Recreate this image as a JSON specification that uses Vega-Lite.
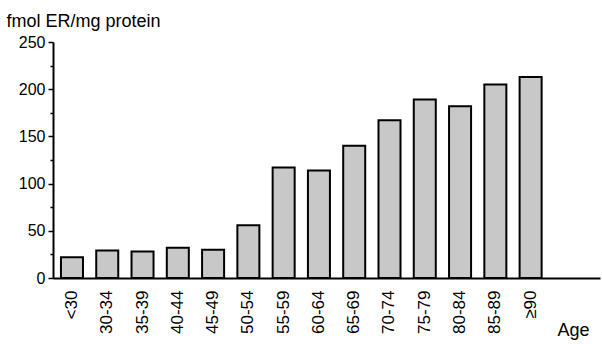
{
  "$schema": "https://vega.github.io/schema/vega-lite/v6.json",
  "width": 547,
  "height": 236,
  "autosize": {"type": "none"},
  "padding": {"left": 53, "top": 42, "right": 2, "bottom": 66},
  "background": "white",
  "config": {
    "view": {"stroke": null},
    "font": "Liberation Sans",
    "axis": {"grid": false, "labelFont": "Liberation Sans", "titleFont": "Liberation Sans", "labelColor": "black", "titleColor": "black", "titleFontWeight": "normal"}
  },
  "data": {
    "values": [
      {"age": "<30", "er": 22},
      {"age": "30-34", "er": 29},
      {"age": "35-39", "er": 28},
      {"age": "40-44", "er": 32},
      {"age": "45-49", "er": 30},
      {"age": "50-54", "er": 56},
      {"age": "55-59", "er": 117},
      {"age": "60-64", "er": 114},
      {"age": "65-69", "er": 140},
      {"age": "70-74", "er": 167},
      {"age": "75-79", "er": 189},
      {"age": "80-84", "er": 182},
      {"age": "85-89", "er": 205},
      {"age": "≥90", "er": 213}
    ]
  },
  "mark": {"type": "bar", "fill": "#c8c8c8", "stroke": "black", "strokeWidth": 2},
  "encoding": {
    "x": {
      "field": "age",
      "type": "nominal",
      "sort": null,
      "scale": {"paddingInner": 0.376, "paddingOuter": 0.94, "align": 0.12},
      "axis": {
        "title": "Age",
        "titleFontSize": 18,
        "titleAngle": 0,
        "titleX": 504,
        "titleY": 57,
        "titleAlign": "left",
        "titleBaseline": "alphabetic",
        "labelAngle": -90,
        "labelAlign": "right",
        "labelBaseline": "middle",
        "labelFontSize": 17,
        "labelPadding": 12,
        "ticks": false,
        "domainColor": "black",
        "domainWidth": 2
      }
    },
    "y": {
      "field": "er",
      "type": "quantitative",
      "scale": {"domain": [0, 250], "nice": false},
      "axis": {
        "title": "fmol ER/mg protein",
        "titleFontSize": 18,
        "titleAngle": 0,
        "titleX": -47,
        "titleY": -16,
        "titleAlign": "left",
        "titleBaseline": "alphabetic",
        "values": [0, 25, 50, 75, 100, 125, 150, 175, 200, 225, 250],
        "labelExpr": "datum.value % 50 === 0 ? datum.label : ''",
        "labelFontSize": 16,
        "labelPadding": 3,
        "tickColor": "black",
        "tickWidth": 1.5,
        "tickSize": {"condition": {"test": "datum.value % 50 === 0", "value": 5}, "value": 3},
        "domainColor": "black",
        "domainWidth": 2
      }
    }
  }
}
